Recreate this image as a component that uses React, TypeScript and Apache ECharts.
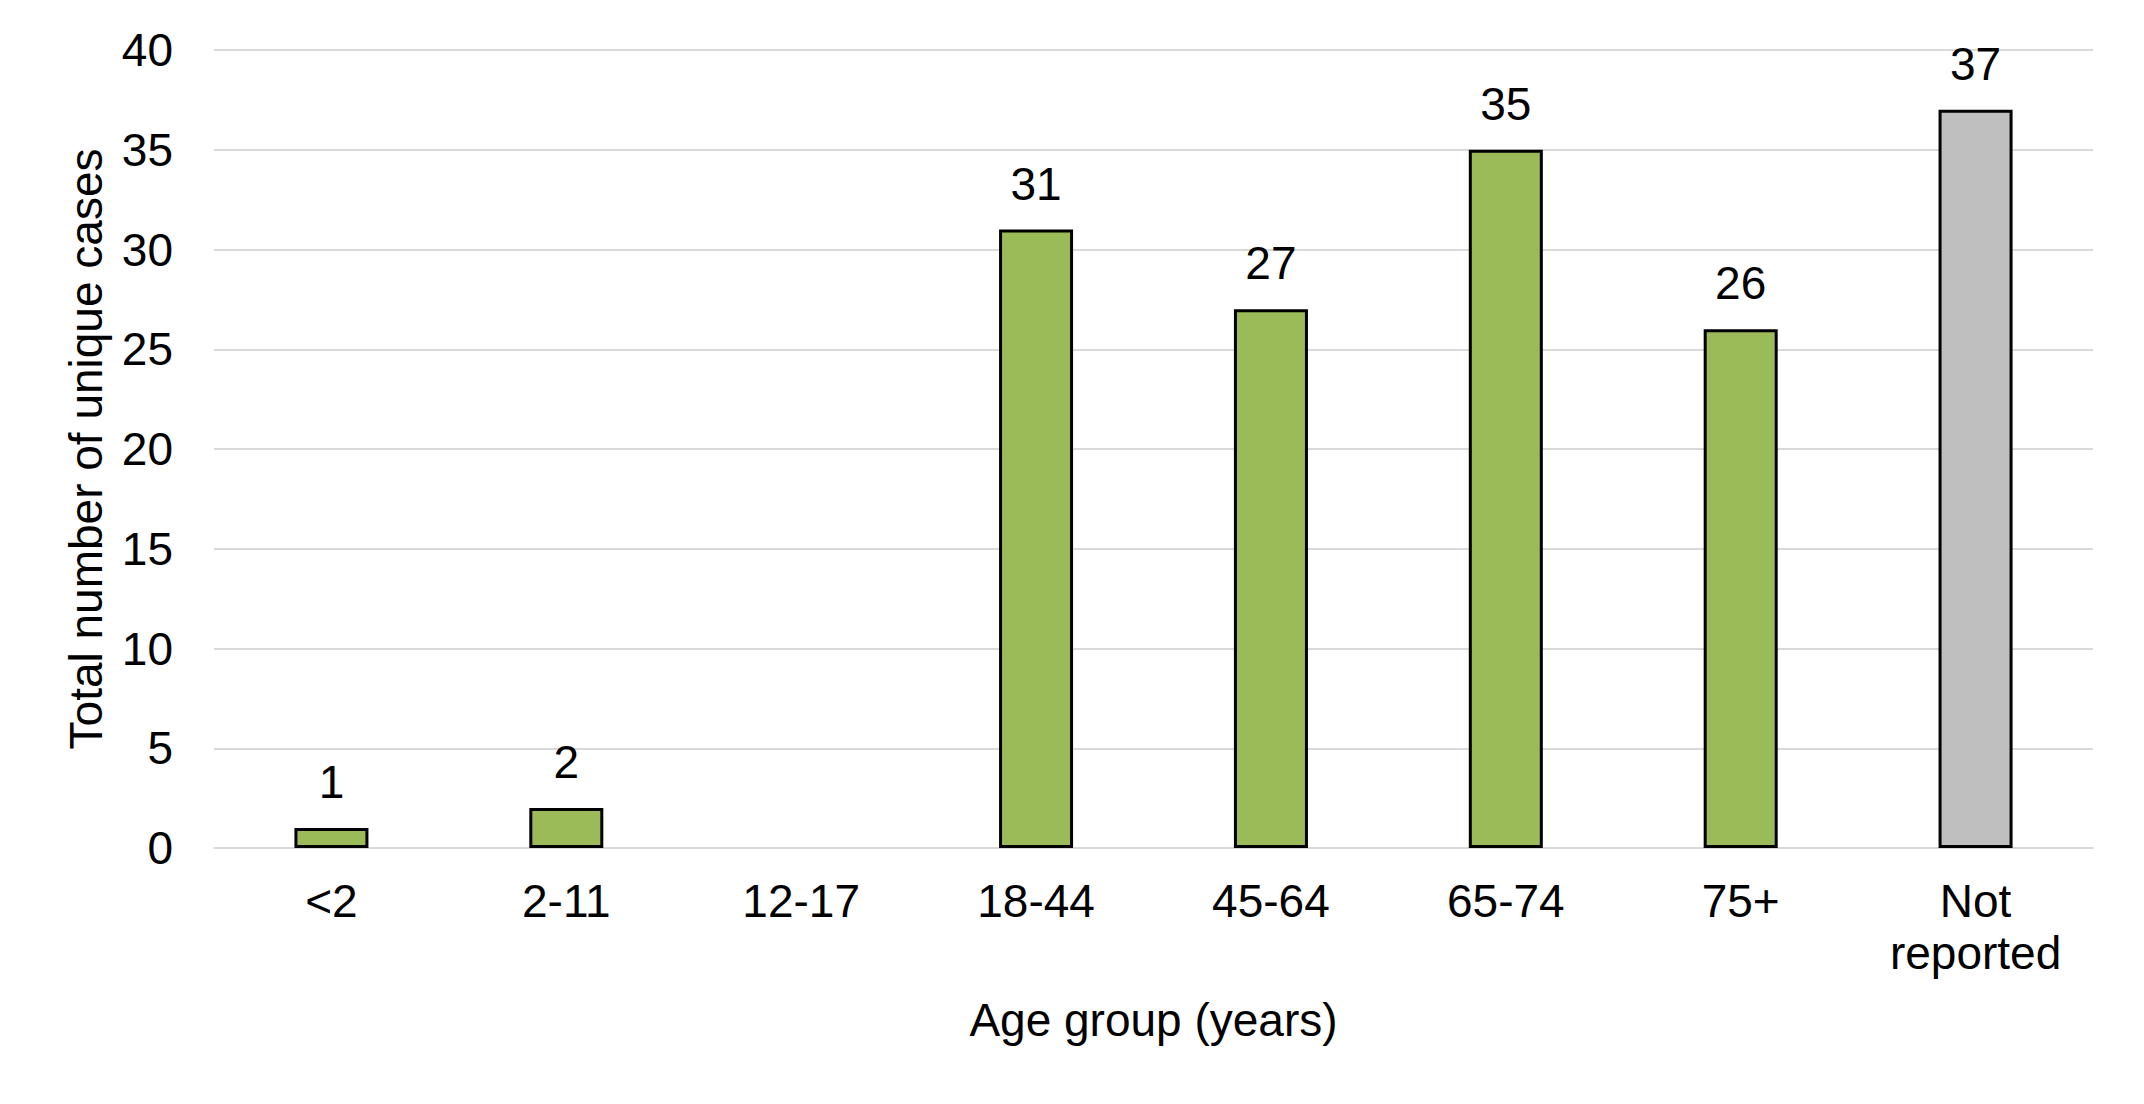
import React, { useEffect, useRef } from "react";
import * as echarts from "echarts";

const categories = ["<2", "2-11", "12-17", "18-44", "45-64", "65-74", "75+", "Not\nreported"];
const caseCounts: (number | string)[] = [1, 2, "-", 31, 27, 35, 26, 37];
const barColors = ["#9BBB59", "#9BBB59", "#9BBB59", "#9BBB59", "#9BBB59", "#9BBB59", "#9BBB59", "#BFBFBF"];
const yTicks = { min: 0, max: 40, interval: 5 };
const xAxisTitle = "Age group (years)";
const yAxisTitle = "Total number of unique cases";

const FONT = "'Liberation Sans', Arial, sans-serif";
const FS = 46;

export default function App() {
  const ref = useRef<HTMLDivElement>(null);
  useEffect(() => {
    if (!ref.current) return;
    const chart = echarts.init(ref.current, undefined, { renderer: "svg" });
    chart.setOption({
      animation: false,
      backgroundColor: "#ffffff",
      textStyle: { fontFamily: FONT },
      grid: { left: 214, right: 51, top: 50, bottom: 256, containLabel: false },
      xAxis: {
        type: "category",
        data: categories,
        name: xAxisTitle,
        nameLocation: "middle",
        nameGap: 149,
        nameTextStyle: { fontSize: FS, color: "#000", fontFamily: FONT },
        axisLine: { show: true, lineStyle: { color: "#D9D9D9", width: 2 } },
        axisTick: { show: false },
        axisLabel: {
          fontSize: FS,
          color: "#000",
          fontFamily: FONT,
          margin: 27,
          lineHeight: 52,
          interval: 0,
        },
      },
      yAxis: {
        type: "value",
        min: yTicks.min,
        max: yTicks.max,
        interval: yTicks.interval,
        name: yAxisTitle,
        nameLocation: "middle",
        nameGap: 105,
        nameTextStyle: { fontSize: FS, color: "#000", fontFamily: FONT },
        axisLine: { show: false },
        axisTick: { show: false },
        axisLabel: { fontSize: FS, color: "#000", fontFamily: FONT, margin: 41 },
        splitLine: { show: true, lineStyle: { color: "#D9D9D9", width: 2 } },
      },
      series: [
        {
          type: "bar",
          barWidth: 74,
          data: caseCounts.map((v, i) => ({
            value: v,
            itemStyle: { color: barColors[i], borderColor: "#000000", borderWidth: 3 },
          })),
          label: {
            show: true,
            position: "top",
            distance: 23,
            fontSize: FS,
            color: "#000",
            fontFamily: FONT,
          },
        },
      ],
    });
    return () => chart.dispose();
  }, []);
  return (
    <div
      ref={ref}
      style={{ position: "fixed", left: 0, top: 0, width: 2144, height: 1104, background: "#fff" }}
    />
  );
}
